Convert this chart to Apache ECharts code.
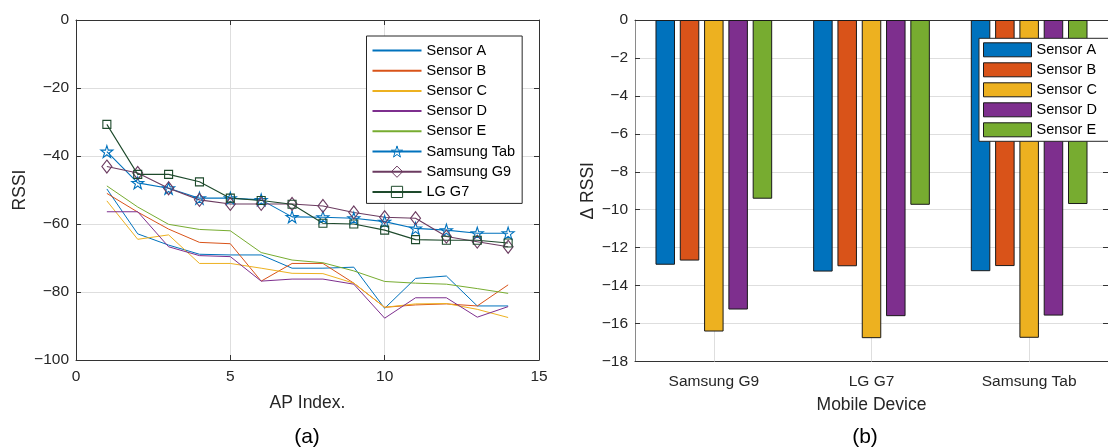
<!DOCTYPE html>
<html>
<head>
<meta charset="utf-8">
<script src="https://cdn.jsdelivr.net/npm/echarts@6/dist/echarts.min.js"></script>
<style>
html,body{margin:0;padding:0;background:#fff;}
#chart{width:1108px;height:448px;}
</style>
</head>
<body>
<div id="chart"></div>
<script>
// ---------- data: panel (a) ----------
const apIndex = [1,2,3,4,5,6,7,8,9,10,11,12,13,14];
const sensorA = [-49.7,-62.9,-66.2,-68.9,-69.1,-69.1,-73.0,-73.0,-72.7,-84.8,-76.0,-75.3,-84.1,-84.1];
const sensorB = [-51.0,-56.5,-61.5,-65.4,-65.8,-76.8,-71.6,-71.6,-77.4,-84.5,-83.8,-83.5,-84.1,-77.9];
const sensorC = [-53.2,-64.5,-63.2,-71.6,-71.6,-73.0,-74.5,-74.6,-77.4,-84.5,-83.5,-83.4,-85.1,-87.5];
const sensorD = [-56.4,-56.4,-66.7,-69.3,-69.6,-76.8,-76.2,-76.2,-77.7,-87.7,-81.7,-81.7,-87.4,-84.3];
const sensorE = [-48.8,-55.0,-60.1,-61.6,-62.0,-68.4,-70.6,-71.4,-73.8,-76.9,-77.4,-77.7,-79.0,-80.4];
const samsungTab = [-38.7,-47.9,-49.5,-52.4,-52.4,-52.9,-57.9,-58.0,-58.3,-59.3,-61.3,-61.8,-62.7,-62.7];
const samsungG9 = [-43.1,-45.0,-49.5,-52.9,-54.1,-54.1,-54.1,-54.7,-56.6,-58.0,-58.3,-63.7,-65.2,-66.7];
const lgG7 = [-30.7,-45.4,-45.4,-47.6,-52.4,-53.1,-54.2,-59.8,-60.0,-61.8,-64.6,-64.8,-64.8,-65.6];

// ---------- data: panel (b) ----------
const devices = ['Samsung G9','LG G7','Samsung Tab'];
const sensorNames = ['Sensor A','Sensor B','Sensor C','Sensor D','Sensor E'];
// delta RSSI per sensor, ordered by devices
const dA = [-12.90,-13.26,-13.24];
const dB = [-12.68,-12.98,-12.97];
const dC = [-16.42,-16.77,-16.75];
const dD = [-15.26,-15.61,-15.58];
const dE = [-9.42,-9.74,-9.70];

const FONT = 'Liberation Sans, Arial, Helvetica, sans-serif';
const TXT = '#262626';
const AX = '#333333';
const GRIDC = '#dedede';
const minus = v => String(v).replace('-', '\u2212');

const colA='#0072BD', colB='#D95319', colC='#EDB120', colD='#7E2F8E', colE='#77AC30';
const colTab='#0072BD', colG9='#6B3B60', colLG='#1E4A2C';
const star = 'path://M50,0 L61.2,34.5 L97.6,34.5 L68.2,55.9 L79.4,90.5 L50,69.1 L20.6,90.5 L31.8,55.9 L2.4,34.5 L38.8,34.5 Z';
const clear = 'rgba(255,255,255,0)';

const pts = arr => apIndex.map((x,i)=>[x, arr[i]]);
function sensorLine(name, arr, color){
  return {name, type:'line', xAxisIndex:0, yAxisIndex:0, data:pts(arr),
    symbol:'none', lineStyle:{color, width:1}, itemStyle:{color}, z:2};
}
function deviceLine(name, arr, color, symbol, size){
  return {name, type:'line', xAxisIndex:0, yAxisIndex:0, data:pts(arr),
    symbol, symbolSize:size, showSymbol:true,
    lineStyle:{color, width:1.1},
    itemStyle:{color:clear, borderColor:color, borderWidth:1.1}, z:3};
}
function bar(name, arr, color, extra){
  return Object.assign({name:'bar:'+name, type:'bar', xAxisIndex:2, yAxisIndex:2, data:arr,
    barWidth:19.5, barGap:'24.6%', z:3,
    itemStyle:{color, borderColor:'#1a1a1a', borderWidth:1}}, extra||{});
}

const tickLabel = {color:TXT, fontFamily:FONT, fontSize:15.5};
const nameStyle = {color:TXT, fontFamily:FONT, fontSize:17.5};

const hiddenSym = {color:clear, borderColor:clear, borderWidth:0};
const leftLegendData = [
  {name:'Sensor A', itemStyle:hiddenSym},
  {name:'Sensor B', itemStyle:hiddenSym},
  {name:'Sensor C', itemStyle:hiddenSym},
  {name:'Sensor D', itemStyle:hiddenSym},
  {name:'Sensor E', itemStyle:hiddenSym},
  {name:'Samsung Tab', itemStyle:{color:clear, borderColor:colTab, borderWidth:1}},
  {name:'Samsung G9', itemStyle:{color:clear, borderColor:colG9, borderWidth:1}},
  {name:'LG G7', itemStyle:{color:clear, borderColor:colLG, borderWidth:1}}
];

const option = {
  animation:false,
  backgroundColor:'#fff',
  grid:[
    {left:76, top:20, width:463, height:340, containLabel:false},
    {left:635, top:20, width:483.6, height:341.5, containLabel:false}
  ],
  xAxis:[
    {gridIndex:0, type:'value', min:0, max:15, interval:5, position:'bottom',
     name:'AP Index.', nameLocation:'middle', nameGap:34, nameTextStyle:nameStyle,
     axisLine:{show:true, onZero:false, lineStyle:{color:AX}},
     axisTick:{show:true, inside:true, length:5, lineStyle:{color:AX}},
     axisLabel:Object.assign({margin:9, formatter:minus}, tickLabel),
     splitLine:{show:true, lineStyle:{color:GRIDC}}},
    {gridIndex:0, type:'value', min:0, max:15, interval:5, position:'top',
     axisLine:{show:true, onZero:false, lineStyle:{color:AX}},
     axisTick:{show:true, inside:true, length:5, lineStyle:{color:AX}},
     axisLabel:{show:false}, splitLine:{show:false}},
    {gridIndex:1, type:'category', data:devices, position:'bottom',
     name:'Mobile Device', nameLocation:'middle', nameGap:35, nameTextStyle:nameStyle,
     axisLine:{show:true, onZero:false, lineStyle:{color:AX}},
     axisTick:{show:true, inside:true, length:5, alignWithLabel:true, lineStyle:{color:AX}},
     axisLabel:Object.assign({margin:12}, tickLabel),
     splitLine:{show:false}},
    {gridIndex:1, type:'category', data:devices, position:'top',
     axisLine:{show:true, onZero:false, lineStyle:{color:AX}},
     axisTick:{show:true, inside:true, length:5, alignWithLabel:true, lineStyle:{color:AX}},
     axisLabel:{show:false}, splitLine:{show:false}}
  ],
  yAxis:[
    {gridIndex:0, type:'value', min:-100, max:0, interval:20, position:'left',
     name:'RSSI', nameLocation:'middle', nameGap:47, nameTextStyle:nameStyle,
     axisLine:{show:true, onZero:false, lineStyle:{color:AX}},
     axisTick:{show:true, inside:true, length:5, lineStyle:{color:AX}},
     axisLabel:Object.assign({margin:7, formatter:minus}, tickLabel),
     splitLine:{show:true, lineStyle:{color:GRIDC}}},
    {gridIndex:0, type:'value', min:-100, max:0, interval:20, position:'right',
     axisLine:{show:true, onZero:false, lineStyle:{color:AX}},
     axisTick:{show:true, inside:true, length:5, lineStyle:{color:AX}},
     axisLabel:{show:false}, splitLine:{show:false}},
    {gridIndex:1, type:'value', min:-18, max:0, interval:2, position:'left',
     name:'\u0394 RSSI', nameLocation:'middle', nameGap:38, nameTextStyle:nameStyle,
     axisLine:{show:true, onZero:false, lineStyle:{color:'#8a8a8a'}},
     axisTick:{show:true, inside:true, length:5, lineStyle:{color:AX}},
     axisLabel:Object.assign({margin:7, formatter:minus}, tickLabel),
     splitLine:{show:true, lineStyle:{color:GRIDC}}},
    {gridIndex:1, type:'value', min:-18, max:0, interval:2, position:'right',
     axisLine:{show:true, onZero:false, lineStyle:{color:AX}},
     axisTick:{show:true, inside:true, length:5, lineStyle:{color:AX}},
     axisLabel:{show:false}, splitLine:{show:false}}
  ],
  legend:[
    {orient:'vertical', left:366.5, top:36, padding:[7,7,4,5],
     itemWidth:49, itemHeight:14, itemGap:5.2,
     backgroundColor:'#fff', borderColor:'#262626', borderWidth:1, borderRadius:0,
     textStyle:{color:'#000', fontFamily:FONT, fontSize:14.5},
     data:leftLegendData,
     selectedMode:false, z:10},
    {orient:'vertical', left:979, top:38.3, padding:[4,12,4,4],
     itemWidth:48, itemHeight:14, itemGap:5,
     icon:'rect',
     itemStyle:{borderColor:'#1a1a1a', borderWidth:1},
     backgroundColor:'#fff', borderColor:'#262626', borderWidth:1, borderRadius:0,
     textStyle:{color:'#000', fontFamily:FONT, fontSize:14.5},
     data:sensorNames.map(n=>'bar:'+n),
     formatter:n=>n.replace('bar:',''),
     selectedMode:false, z:10}
  ],
  graphic:[
    {type:'text', style:{text:'(a)', x:307, y:437, textAlign:'center', textVerticalAlign:'middle', font:'21px '+FONT, fill:'#000'}},
    {type:'text', style:{text:'(b)', x:865, y:437, textAlign:'center', textVerticalAlign:'middle', font:'21px '+FONT, fill:'#000'}}
  ],
  series:[
    sensorLine('Sensor A', sensorA, colA),
    sensorLine('Sensor B', sensorB, colB),
    sensorLine('Sensor C', sensorC, colC),
    sensorLine('Sensor D', sensorD, colD),
    sensorLine('Sensor E', sensorE, colE),
    deviceLine('Samsung Tab', samsungTab, colTab, star, 12),
    deviceLine('Samsung G9', samsungG9, colG9, 'diamond', [10,13]),
    deviceLine('LG G7', lgG7, colLG, 'rect', 8),
    bar('Sensor A', dA, colA),
    bar('Sensor B', dB, colB),
    bar('Sensor C', dC, colC, {markLine:{silent:true, z:1, symbol:['none','none'], label:{show:false},
        lineStyle:{color:GRIDC, type:'solid', width:1}, emphasis:{disabled:true},
        data:devices.map(d=>({xAxis:d}))}}),
    bar('Sensor D', dD, colD),
    bar('Sensor E', dE, colE)
  ]
};

const chart = echarts.init(document.getElementById('chart'), null, {renderer:'canvas'});
chart.setOption(option);
</script>
</body>
</html>
